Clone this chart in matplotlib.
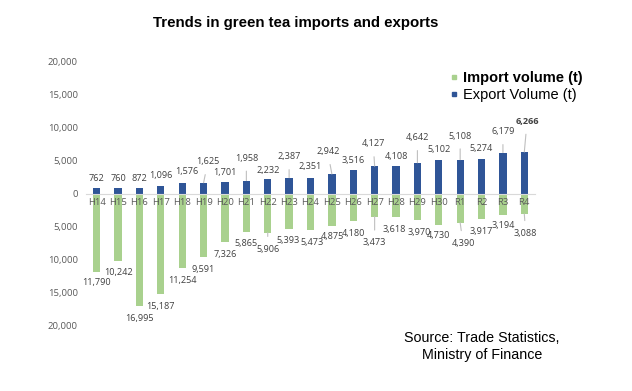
import matplotlib.pyplot as plt
import numpy as np
from matplotlib.ticker import FuncFormatter
from matplotlib.lines import Line2D

# fiscal years (Heisei / Reiwa)
years = ['H14', 'H15', 'H16', 'H17', 'H18', 'H19', 'H20', 'H21', 'H22', 'H23', 'H24',
         'H25', 'H26', 'H27', 'H28', 'H29', 'H30', 'R1', 'R2', 'R3', 'R4']
exports = [762, 760, 872, 1096, 1576, 1625, 1701, 1958, 2232, 2387, 2351,
           2942, 3516, 4127, 4108, 4642, 5102, 5108, 5274, 6179, 6266]
imports = [11790, 10242, 16995, 15187, 11254, 9591, 7326, 5865, 5906, 5393, 5473,
           4875, 4180, 3473, 3618, 3970, 4730, 4390, 3917, 3194, 3088]

# label offsets in points (some labels pushed away with a leader line)
exp_off = [7, 7, 7, 8, 8, 15, 7, 16, 6, 15, 8, 16, 7, 16, 7, 18, 7, 17, 7, 15, 22]
imp_off = [8, 8, 9, 9, 9, 9, 9, 8, 12, 8, 9, 8, 9, 19, 9, 9, 8, 15, 9, 8, 14]
exp_dx = [0, 0, 0, 0, 3, 3, 0, 0, 0, 0, 0, -3, 0, -1, 0, 0, 0, 0, 0, 0, 2]
imp_dx = [0, 0, 0, 0, 0, 0, 0, 0, 0, -1, 1, 0, 0, 0, -1, 1, 0, 2, 0, 0, 1]

GREEN = '#a9d18e'
BLUE = '#2f5597'

plt.rcParams['font.family'] = ['Liberation Sans', 'DejaVu Sans']

fig = plt.figure(figsize=(6.32, 3.91), dpi=100)
ax = fig.add_axes([86 / 632, 65 / 391, 449 / 632, 265 / 391])

x = np.arange(len(years))
w = 0.34
ax.bar(x, [-v for v in imports], width=w, color=GREEN, zorder=2)
ax.bar(x, exports, width=w, color=BLUE, zorder=2)

ax.set_xlim(-0.5, len(years) - 0.5)
ax.set_ylim(-20000, 20000)
ax.set_yticks(np.arange(-20000, 20001, 5000))
ax.yaxis.set_major_formatter(FuncFormatter(lambda v, p: f'{abs(int(v)):,}'))
ax.tick_params(axis='y', length=0, labelsize=6.8, labelcolor='#595959', pad=6)
for lab in ax.get_yticklabels():
    lab.set_family('Open Sans')

ax.spines['bottom'].set_position('zero')
ax.spines['bottom'].set_color('#d9d9d9')
for s in ['top', 'right', 'left']:
    ax.spines[s].set_visible(False)
ax.set_xticks(x)
ax.set_xticklabels(years)
ax.tick_params(axis='x', length=0, labelsize=6.8, labelcolor='#595959', pad=3)
for lab in ax.get_xticklabels():
    lab.set_family('Open Sans')
ax.xaxis.set_zorder(3)

lead = dict(arrowstyle='-', color='#bfbfbf', lw=0.8, shrinkA=4, shrinkB=0)
for i, v in enumerate(exports):
    far = exp_off[i] > 12
    ax.annotate(f'{v:,}', xy=(i, v), xytext=(exp_dx[i], exp_off[i]),
                textcoords='offset points', ha='center', va='center',
                fontsize=6.6, color='#404040', family='Open Sans',
                fontweight='bold' if i == len(exports) - 1 else 'normal',
                arrowprops=lead if far else None)
for i, v in enumerate(imports):
    far = imp_off[i] > 11
    ax.annotate(f'{v:,}', xy=(i, -v), xytext=(imp_dx[i], -imp_off[i]),
                textcoords='offset points', ha='center', va='center',
                fontsize=6.6, color='#404040', family='Open Sans',
                arrowprops=lead if far else None)

fig.text(296 / 632, 1 - 23 / 391, 'Trends in green tea imports and exports',
         ha='center', va='center', fontsize=10.8, fontweight='bold')

handles = [Line2D([], [], marker='s', ls='', color=GREEN, markersize=3.5),
           Line2D([], [], marker='s', ls='', color=BLUE, markersize=3.5)]
leg = fig.legend(handles, ['Import volume (t)', 'Export Volume (t)'],
                 loc='upper left', bbox_to_anchor=(444 / 632, 1 - 65 / 391),
                 frameon=False, fontsize=10.5, handlelength=0.6,
                 handletextpad=0.3, labelspacing=0.2, borderaxespad=0)
leg.get_texts()[0].set_fontweight('bold')

fig.text(482 / 632, 1 - 338 / 391, 'Source: Trade Statistics,',
         ha='center', va='center', fontsize=10.3)
fig.text(482 / 632, 1 - 355 / 391, 'Ministry of Finance',
         ha='center', va='center', fontsize=10.3)

fig.savefig('out.png', dpi=100)
